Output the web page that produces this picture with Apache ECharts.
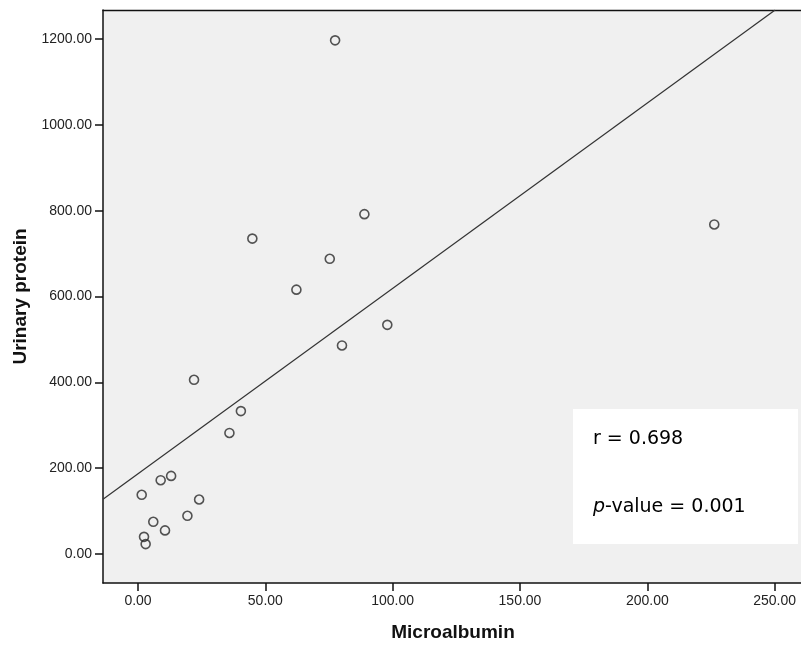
<!DOCTYPE html>
<html>
<head>
<meta charset="utf-8">
<script src="https://cdn.jsdelivr.net/npm/echarts@6/dist/echarts.min.js"></script>
<style>
html,body{margin:0;padding:0;background:#fff;}
#c{width:801px;height:646px;}
</style>
</head>
<body>
<div id="c"></div>
<script>
// Data
const microalbumin = [1.45, 8.9, 13.0, 24.0, 19.4, 6.0, 10.6, 2.36, 3.0, 35.9, 40.4, 22.0, 44.9, 62.2, 75.3, 77.4, 88.9, 80.1, 97.9, 226.3];
const urinaryProtein = [138, 172, 182, 127, 89, 75, 55, 40, 23, 282, 333, 406, 735, 616, 688, 1197, 792, 486, 534, 768];
const fitLineX = [-13.75, 250.2];
const fitLineY = [127.5, 1267.7];
const xTicks = [0, 50, 100, 150, 200, 250];
const yTicks = [0, 200, 400, 600, 800, 1000, 1200];
const statR = 'r = 0.698';
const statP = '0.001';

const points = microalbumin.map((x, i) => [x, urinaryProtein[i]]);
const fitLine = fitLineX.map((x, i) => [x, fitLineY[i]]);

const chart = echarts.init(document.getElementById('c'), null, {renderer: 'canvas'});
const labelStyle = {fontFamily: '"Liberation Sans", Arial, sans-serif', fontSize: 14, color: '#222'};
const X_MIN = -13.75, X_MAX = 261.15;
chart.setOption({
  backgroundColor: '#ffffff',
  animation: false,
  grid: {left: 103, top: 10, width: 700, height: 573, outerBoundsMode: 'none', containLabel: false,
    show: true, backgroundColor: '#f0f0f0', borderWidth: 0},
  xAxis: [{
    type: 'value', min: X_MIN, max: X_MAX,
    name: 'Microalbumin', nameLocation: 'middle', nameGap: 40,
    nameTextStyle: {fontFamily: '"Liberation Sans", Arial, sans-serif', fontSize: 19, fontWeight: 'bold', color: '#111'},
    axisLine: {show: true, onZero: false, lineStyle: {color: '#111', width: 1.5}},
    axisTick: {show: true, length: 8, customValues: xTicks, lineStyle: {color: '#111', width: 1.5}},
    axisLabel: Object.assign({customValues: xTicks, margin: 11, formatter: v => v.toFixed(2)}, labelStyle),
    splitLine: {show: false}
  }, {
    type: 'value', position: 'top', min: X_MIN, max: X_MAX,
    axisLine: {show: true, onZero: false, lineStyle: {color: '#111', width: 1.3}},
    axisTick: {show: false}, axisLabel: {show: false}, splitLine: {show: false}
  }],
  yAxis: {
    type: 'value', min: -67.6, max: 1267.7,
    name: 'Urinary protein', nameLocation: 'middle', nameGap: 64, nameRotate: 90,
    nameTextStyle: {fontFamily: '"Liberation Sans", Arial, sans-serif', fontSize: 19, fontWeight: 'bold', color: '#111'},
    axisLine: {show: true, onZero: false, lineStyle: {color: '#111', width: 1.5}},
    axisTick: {show: true, length: 8, customValues: yTicks, lineStyle: {color: '#111', width: 1.5}},
    axisLabel: Object.assign({customValues: yTicks, margin: 11, formatter: v => v.toFixed(2)}, labelStyle),
    splitLine: {show: false}
  },
  series: [
    {
      type: 'line', data: fitLine, symbol: 'none', clip: true, silent: true,
      lineStyle: {color: '#333', width: 1.2}
    },
    {
      type: 'scatter', data: points, symbol: 'circle', symbolSize: 9,
      itemStyle: {color: 'rgba(0,0,0,0)', borderColor: '#2a2a2a', borderWidth: 1.6}
    }
  ],
  graphic: [
    {type: 'rect', left: 573, top: 409, shape: {width: 225, height: 135}, style: {fill: '#ffffff'}, z: 100},
    {type: 'text', left: 593, top: 430, z: 101,
      style: {text: statR, font: '19px "DejaVu Sans", Verdana, sans-serif', fill: '#000'}},
    {type: 'text', left: 593, top: 498, z: 101,
      style: {text: '{i|p}-value = ' + statP, font: '19px "DejaVu Sans", Verdana, sans-serif', fill: '#000',
        rich: {i: {fontStyle: 'italic', fontFamily: '"DejaVu Sans", Verdana, sans-serif', fontSize: 19, fill: '#000'}}}}
  ]
});
</script>
</body>
</html>
